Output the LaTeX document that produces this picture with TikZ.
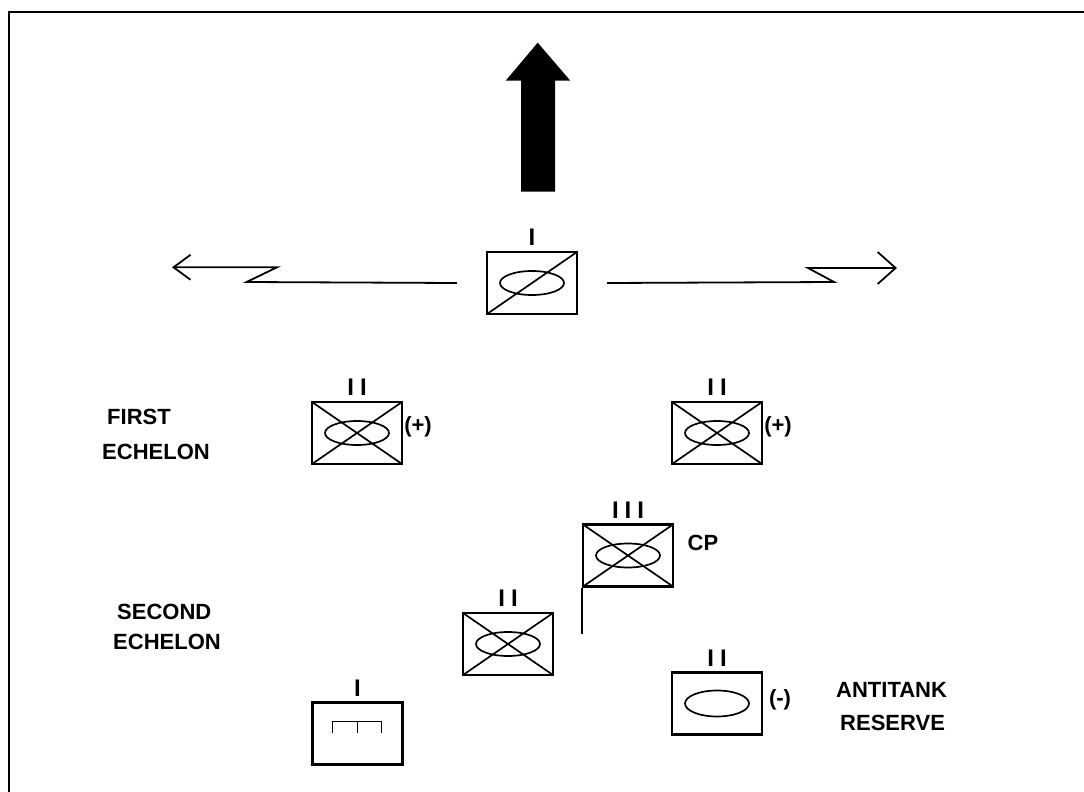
\documentclass[tikz,border=0pt]{standalone}
\usepackage{fontspec}
\setmainfont{Liberation Sans}
\usetikzlibrary{positioning,arrows.meta}

\tikzset{
  unit/.style={draw, line width=2.2pt, minimum width=90pt, minimum height=62pt, inner sep=0pt},
  mech/.style={unit, path picture={
      \draw[line width=1.7pt] (path picture bounding box.south west) -- (path picture bounding box.north east)
                              (path picture bounding box.north west) -- (path picture bounding box.south east);
      \draw[line width=1.7pt] (path picture bounding box.center) ellipse (32pt and 12pt);}},
  cav/.style={unit, path picture={
      \draw[line width=1.7pt] (path picture bounding box.south west) -- (path picture bounding box.north east);
      \draw[line width=1.7pt] (path picture bounding box.center) ellipse (32pt and 12pt);}},
  armd/.style={unit, path picture={
      \draw[line width=1.7pt] (path picture bounding box.center) ellipse (32pt and 13pt);}},
  trk/.style={unit, path picture={
      \draw[line width=1.6pt] (path picture bounding box.center) ++(-25,-1) -- ++(0,-11) -- ++(49,0) -- ++(0,11)
                              (path picture bounding box.center) ++(0,-12) -- ++(0,11);}},
  txt/.style={font=\fontsize{22}{26}\selectfont\bfseries, inner sep=0pt},
  ech/.style={font=\fontsize{24}{26}\selectfont\bfseries, inner sep=0pt, above=5pt of #1},
  flank/.style={line width=1.8pt}
}

\begin{document}
\begin{tikzpicture}[x=1pt,y=-1pt]
\useasboundingbox (0,0) rectangle (1084,792);
\draw[line width=2.8pt] (9,792) -- (9,12) -- (1084,12);

% units
\node[cav]  (cav) at (532,283)     {};
\node[mech] (bn1) at (357,433)     {};
\node[mech] (bn2) at (717,433)     {};
\node[mech] (bde) at (628,555.5)   {};
\node[mech] (bn3) at (508,644)     {};
\node[trk]  (co)  at (357.5,733.5) {};
\node[armd] (atk) at (717,703.5)   {};

% echelon marks
\node[ech=cav] (ecav) {I};
\node[ech=bn1] (ebn1) {I\kern6pt I};
\node[ech=bn2] (ebn2) {I\kern6pt I};
\node[ech=bde] (ebde) {I\kern6pt I\kern6pt I};
\node[ech=bn3] (ebn3) {I\kern6pt I};
\node[ech=co]  (eco)  {I};
\node[ech=atk] (eatk) {I\kern6pt I};

% modifiers
\node[txt] (plus1) at (418,427) {(+)};
\node[txt] (plus2) at (778,427) {(+)};
\node[txt] (minus) at (780,700) {(-)};
\node[txt] (cp)    at (703,543) {CP};

% labels
\node[txt, anchor=west] (first)  at (107,417) {FIRST};
\node[txt, anchor=west] (ech1)   at (102,452) {ECHELON};
\node[txt, anchor=west] (second) at (117,612) {SECOND};
\node[txt, anchor=west] (ech2)   at (113,642) {ECHELON};
\node[txt, anchor=west] (antitank) at (836,690) {ANTITANK};
\node[txt, anchor=west] (reserve)  at (840,723) {RESERVE};

% direction of attack
\fill (521,191.7) -- (521,80.7) -- (505.7,80.7) -- (537.7,42.7) -- (570.3,80.7) -- (555,80.7) -- (555,191.7) -- cycle;

% boundaries
\coordinate (lw) at (172,267.3);
\coordinate (le) at (897,268);
\draw[flank, -{Straight Barb[length=17pt,width=25pt]}] ([xshift=-29pt]cav.west) -- (246.6,282) -- (277,267.3) -- (lw);
\draw[flank, -{Straight Barb[length=18pt,width=32pt]}] ([xshift=29pt]cav.east) -- (834,282) -- (808,268) -- (le);

% CP staff
\coordinate (foot) at ([yshift=-46pt]bde.south west);
\draw[line width=1.7pt] (bde.south west) -- (foot);
\end{tikzpicture}
\end{document}
